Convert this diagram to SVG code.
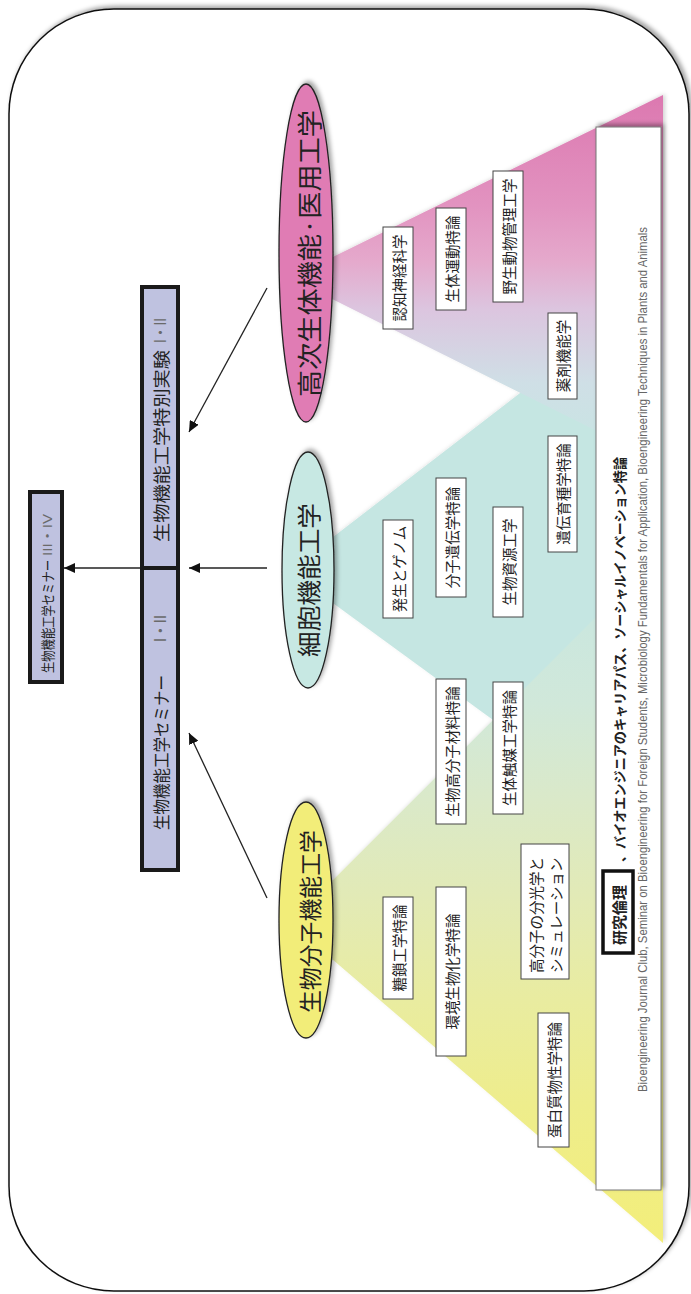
<svg xmlns="http://www.w3.org/2000/svg" width="691" height="1294" viewBox="0 0 691 1294">
<defs>
<style>
.jp{font-family:"Noto Sans CJK JP","Noto Sans CJK SC",sans-serif;fill:#222;}
.v{text-anchor:middle;dominant-baseline:central;}
.s{text-anchor:start;dominant-baseline:central;}
.course{fill:#fff;stroke:#444;stroke-width:1;}
.cbt{font-size:14.5px;}
.lav{fill:#bfc2e0;stroke:#1a1a1a;stroke-width:4;}
.ell{stroke:#222;stroke-width:1.3;}
.num{font-family:"Liberation Sans","Noto Sans CJK JP",sans-serif;fill:#6a6a6a;}
.conn{stroke:#222;stroke-width:1.3;fill:none;}
</style>
<linearGradient id="gPink" gradientUnits="userSpaceOnUse" x1="0" y1="95" x2="0" y2="464">
<stop offset="0" stop-color="#dc78b0"/>
<stop offset="0.3" stop-color="#e293c0"/>
<stop offset="0.45" stop-color="#e5a9cc"/>
<stop offset="0.58" stop-color="#dcc5df"/>
<stop offset="0.78" stop-color="#cfdfe6"/>
<stop offset="1" stop-color="#c6e6e2"/>
</linearGradient>
<linearGradient id="gYel" gradientUnits="userSpaceOnUse" x1="0" y1="550" x2="0" y2="1243">
<stop offset="0" stop-color="#c6e6e2"/>
<stop offset="0.22" stop-color="#d0e8da"/>
<stop offset="0.36" stop-color="#dae9c9"/>
<stop offset="0.5" stop-color="#e2eab6"/>
<stop offset="0.65" stop-color="#e9eca0"/>
<stop offset="0.8" stop-color="#eeed8c"/>
<stop offset="1" stop-color="#f3ee7a"/>
</linearGradient>
<filter id="sh" x="-20%" y="-20%" width="140%" height="140%">
<feDropShadow dx="2.5" dy="-2.5" stdDeviation="2" flood-color="#000" flood-opacity="0.35"/>
</filter>
<filter id="shs" x="-20%" y="-20%" width="140%" height="140%">
<feDropShadow dx="2" dy="-1" stdDeviation="2" flood-color="#000" flood-opacity="0.18"/>
</filter>
<marker id="ah" markerUnits="userSpaceOnUse" markerWidth="12" markerHeight="10" refX="11" refY="5" orient="auto">
<path d="M0,0 L11,5 L0,10 Z" fill="#111"/>
</marker>
</defs>

<g id="frame">
<rect x="9" y="9" width="680" height="1282" rx="105" ry="105" fill="#fff" stroke="#111" stroke-width="1.5" filter="url(#sh)"/>
</g>

<g id="pyramids" filter="url(#shs)">
<polygon points="289,571 663,283 663,844" fill="#c5e6e2"/>
<polygon points="290,278 663,95 663,464" fill="url(#gPink)"/>
<polygon points="290,923 663,550 663,1243" fill="url(#gYel)"/>
</g>

<g id="caption-box">
<rect x="596" y="127" width="65" height="1063" fill="#fff" stroke="#777" stroke-width="1" filter="url(#sh)"/>
<g id="node-ethics">
<rect x="603" y="871" width="30" height="82" fill="#fff" stroke="#111" stroke-width="3.5"/>
<text class="jp v" font-size="15" font-weight="bold" textLength="60" lengthAdjust="spacingAndGlyphs" transform="translate(618,915) rotate(-90)">研究倫理</text>
</g>
<text class="jp s" font-size="13.5" font-weight="bold" fill="#333" textLength="405" lengthAdjust="spacingAndGlyphs" transform="translate(619,862) rotate(-90)">、バイオエンジニアのキャリアパス、ソーシャルイノベーション特論</text>
<text class="s" font-family="'Liberation Sans Narrow','Liberation Sans',sans-serif" font-size="12" fill="#666" textLength="865" lengthAdjust="spacingAndGlyphs" transform="translate(643,1092) rotate(-90)">Bioengineering Journal Club, Seminar on Bioengineering for Foreign Students, Microbiology Fundamentals for Application, Bioengineering Techniques in Plants and Animals</text>
</g>

<g id="connectors">
<line class="conn" x1="142" y1="568" x2="64" y2="568" marker-end="url(#ah)"/>
<line class="conn" x1="267" y1="568" x2="189" y2="568" marker-end="url(#ah)"/>
<line class="conn" x1="267" y1="288" x2="189" y2="432" marker-end="url(#ah)"/>
<line class="conn" x1="267" y1="898" x2="189" y2="733" marker-end="url(#ah)"/>
</g>

<g id="node-seminar34">
<rect class="lav" x="30" y="492" width="32" height="190"/>
<text class="jp s" font-size="13.5" textLength="113" lengthAdjust="spacingAndGlyphs" transform="translate(47,673) rotate(-90)">生物機能工学セミナー</text>
<text class="s num" font-size="13" textLength="42" lengthAdjust="spacingAndGlyphs" transform="translate(47,556) rotate(-90)">III・IV</text>
</g>

<g id="node-experiment">
<rect class="lav" x="142" y="287" width="36" height="281"/>
<text class="jp s" font-size="17" textLength="192" lengthAdjust="spacingAndGlyphs" transform="translate(160,542) rotate(-90)">生物機能工学特別実験</text>
<text class="s num" font-size="16" textLength="25" lengthAdjust="spacingAndGlyphs" transform="translate(160,343) rotate(-90)">I・II</text>
</g>

<g id="node-seminar12">
<rect class="lav" x="142" y="568" width="36" height="302"/>
<text class="jp s" font-size="17" textLength="155" lengthAdjust="spacingAndGlyphs" transform="translate(160,830) rotate(-90)">生物機能工学セミナー</text>
<text class="s num" font-size="16" textLength="27" lengthAdjust="spacingAndGlyphs" transform="translate(160,642) rotate(-90)">I・II</text>
</g>

<g id="node-higher">
<ellipse class="ell" cx="306" cy="253" rx="27" ry="169" fill="#e07bb4" filter="url(#sh)"/>
<text class="jp v" font-size="25" textLength="287" lengthAdjust="spacingAndGlyphs" transform="translate(308,253.5) rotate(-90)">高次生体機能·医用工学</text>
</g>

<g id="node-cell">
<ellipse class="ell" cx="308" cy="570" rx="26" ry="118" fill="#c7e8e3" filter="url(#sh)"/>
<text class="jp v" font-size="24" textLength="154" lengthAdjust="spacingAndGlyphs" transform="translate(307,580) rotate(-90)">細胞機能工学</text>
</g>

<g id="node-molecule">
<ellipse class="ell" cx="306" cy="920" rx="27" ry="118" fill="#f2ed79" filter="url(#sh)"/>
<text class="jp v" font-size="23" textLength="183" lengthAdjust="spacingAndGlyphs" transform="translate(309,921.5) rotate(-90)">生物分子機能工学</text>
</g>

<g id="node-c1"><rect class="course" x="383" y="227" width="30" height="102"/><text class="jp v cbt" transform="translate(398,278) rotate(-90)">認知神経科学</text></g>
<g id="node-c2"><rect class="course" x="436" y="208" width="30" height="102"/><text class="jp v cbt" transform="translate(451,259) rotate(-90)">生体運動特論</text></g>
<g id="node-c3"><rect class="course" x="493" y="171" width="30" height="131"/><text class="jp v cbt" transform="translate(508,236.5) rotate(-90)">野生動物管理工学</text></g>
<g id="node-c4"><rect class="course" x="548" y="313" width="29" height="86"/><text class="jp v cbt" transform="translate(562.5,356) rotate(-90)">薬剤機能学</text></g>
<g id="node-c5"><rect class="course" x="548" y="436" width="29" height="116"/><text class="jp v cbt" transform="translate(562.5,494) rotate(-90)">遺伝育種学特論</text></g>
<g id="node-c6"><rect class="course" x="383" y="520" width="30" height="98"/><text class="jp v cbt" transform="translate(398,569) rotate(-90)">発生とゲノム</text></g>
<g id="node-c7"><rect class="course" x="436" y="478" width="30" height="119"/><text class="jp v cbt" transform="translate(451,537.5) rotate(-90)">分子遺伝学特論</text></g>
<g id="node-c8"><rect class="course" x="493" y="507" width="30" height="110"/><text class="jp v cbt" transform="translate(508,562) rotate(-90)">生物資源工学</text></g>
<g id="node-c9"><rect class="course" x="436" y="679" width="30" height="145"/><text class="jp v cbt" transform="translate(451,751.5) rotate(-90)">生物高分子材料特論</text></g>
<g id="node-c10"><rect class="course" x="493" y="682" width="30" height="132"/><text class="jp v cbt" transform="translate(508,748) rotate(-90)">生体触媒工学特論</text></g>
<g id="node-c11"><rect class="course" x="521" y="844" width="48" height="135"/>
<text class="jp s cbt" transform="translate(535,973) rotate(-90)">高分子の分光学と</text>
<text class="jp s cbt" transform="translate(555,973) rotate(-90)">シミュレーション</text></g>
<g id="node-c12"><rect class="course" x="383" y="897" width="30" height="102"/><text class="jp v cbt" transform="translate(398,948) rotate(-90)">糖鎖工学特論</text></g>
<g id="node-c13"><rect class="course" x="436" y="887" width="30" height="169"/><text class="jp v cbt" transform="translate(451,971.5) rotate(-90)">環境生物化学特論</text></g>
<g id="node-c14"><rect class="course" x="538" y="1013" width="31" height="134"/><text class="jp v cbt" transform="translate(553.5,1080) rotate(-90)">蛋白質物性学特論</text></g>
</svg>
